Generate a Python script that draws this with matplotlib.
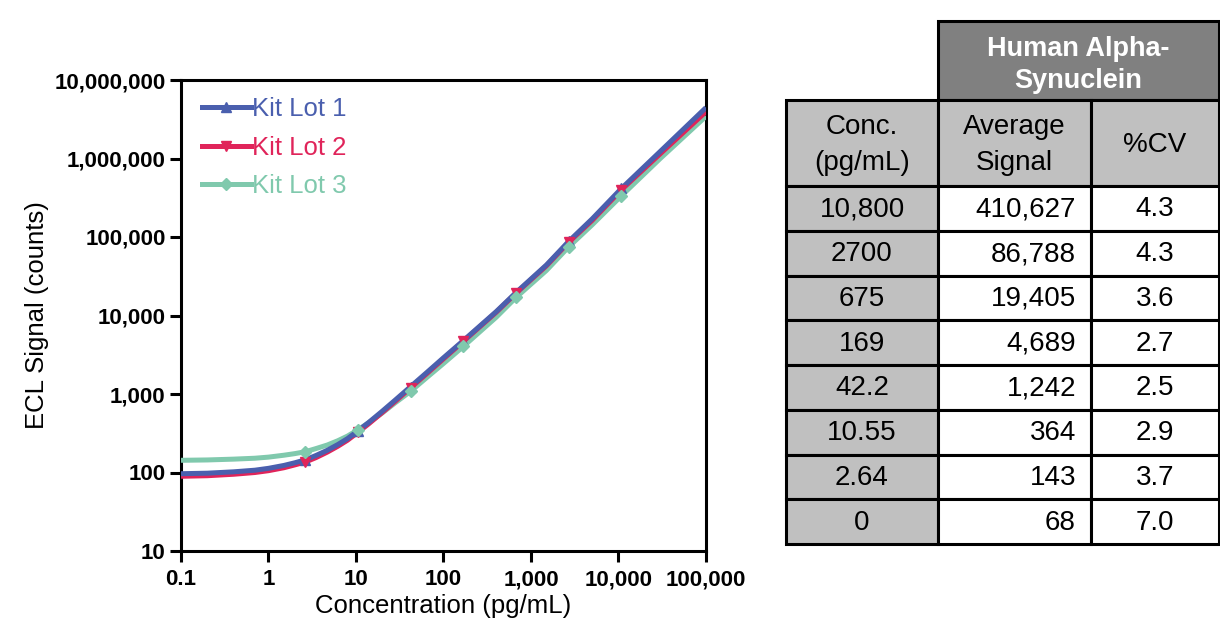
import matplotlib
matplotlib.use("Agg")
import matplotlib.pyplot as plt
from matplotlib.patches import Rectangle
from matplotlib.ticker import FixedLocator, FuncFormatter

plt.rcParams['font.family'] = ['Liberation Sans', 'DejaVu Sans']

# --- fitted curves ---
curve_conc = [0.1, 0.2, 0.4, 0.7, 1, 1.5, 2, 2.64, 3.5, 4.7, 6.2, 8, 10.55, 14, 20,
              28, 42.2, 65, 100, 169, 400, 675, 1500, 2700, 5000, 10800, 30000, 100000]
lot1_curve = [96.5, 98, 102, 107, 113, 123, 133, 145, 165, 192, 227, 270, 340, 435,
              605, 835, 1245, 1895, 2895, 4800, 11200, 19600, 44000, 88000, 170000,
              415000, 1230000, 4450000]
lot2_curve = [89.5, 91, 95, 100, 105.5, 115, 125, 136, 155, 182, 216, 258, 326, 418,
              583, 805, 1205, 1835, 2810, 4700, 11000, 19300, 43000, 86000, 163000,
              400000, 1150000, 3950000]
lot3_curve = [143, 144.5, 148, 152, 157, 166, 174, 184, 202, 224, 254, 291, 350, 431,
              575, 771, 1085, 1636, 2450, 4050, 9500, 17000, 37500, 75000, 143000,
              335000, 1000000, 3450000]

# --- standards (markers) ---
std_conc = [2.64, 10.55, 42.2, 169, 675, 2700, 10800]
lot1_pts = [145, 340, 1245, 4800, 19600, 88000, 415000]
lot2_pts = [136, 326, 1205, 4700, 19300, 86000, 400000]
lot3_pts = [184, 350, 1085, 4050, 17000, 75000, 335000]

lot_names = ['Kit Lot 1', 'Kit Lot 2', 'Kit Lot 3']
lot_colors = ['#4a5fae', '#e0245a', '#80c9ad']
lot_markers = ['^', 'v', 'D']

x_ticks = [0.1, 1, 10, 100, 1000, 10000, 100000]
y_ticks = [10, 100, 1000, 10000, 100000, 1000000, 10000000]

# --- table data ---
tbl_title = 'Human Alpha-\nSynuclein'
tbl_head = ['Conc.\n(pg/mL)', 'Average\nSignal', '%CV']
tbl_conc = ['10,800', '2700', '675', '169', '42.2', '10.55', '2.64', '0']
tbl_signal = ['410,627', '86,788', '19,405', '4,689', '1,242', '364', '143', '68']
tbl_cv = ['4.3', '4.3', '3.6', '2.7', '2.5', '2.9', '3.7', '7.0']

W, H = 1220, 621
fig = plt.figure(figsize=(W / 100, H / 100), dpi=100)
ax = fig.add_axes([181 / W, 1 - 551 / H, (706 - 181) / W, (551 - 80) / H])

curves = [lot1_curve, lot2_curve, lot3_curve]
pts = [lot1_pts, lot2_pts, lot3_pts]
for i in range(3):
    ms = 7.5 if i < 2 else 6.5
    ax.plot(curve_conc, curves[i], color=lot_colors[i], lw=3.6,
            solid_capstyle='butt', zorder=3 - i * 0.1)
    ax.plot(std_conc, pts[i], ls='none', marker=lot_markers[i], ms=ms,
            color=lot_colors[i], zorder=3.5)
    # legend proxy
    ax.plot([], [], color=lot_colors[i], lw=3.6, marker=lot_markers[i],
            ms=ms, label=lot_names[i])

ax.set_xscale('log')
ax.set_yscale('log')
ax.set_xlim(0.1, 100000)
ax.set_ylim(10, 10000000)
ax.xaxis.set_major_locator(FixedLocator(x_ticks))
ax.yaxis.set_major_locator(FixedLocator(y_ticks))
ax.xaxis.set_minor_locator(FixedLocator([]))
ax.yaxis.set_minor_locator(FixedLocator([]))
fmt = FuncFormatter(lambda v, p: f'{v:g}' if v < 1 else f'{int(round(v)):,}')
ax.xaxis.set_major_formatter(fmt)
ax.yaxis.set_major_formatter(fmt)
for s in ax.spines.values():
    s.set_linewidth(2.2)
ax.tick_params(axis='both', which='major', direction='out', length=8, width=2.2,
               labelsize=16)
ax.tick_params(axis='x', pad=5)
ax.tick_params(axis='y', pad=3)
for lab in ax.get_xticklabels() + ax.get_yticklabels():
    lab.set_fontweight('bold')
ax.set_xlabel('Concentration (pg/mL)', fontsize=18.5, labelpad=3)
ax.set_ylabel('ECL Signal (counts)', fontsize=18.5, labelpad=4)

leg = ax.legend(loc='upper left', bbox_to_anchor=(0.02, 0.985), frameon=False,
                fontsize=18.5, handlelength=1.9, handletextpad=0.05, labelspacing=0.56,
                numpoints=1, labelcolor='linecolor', borderaxespad=0)

# --- table, drawn in pixel coords ---
tax = fig.add_axes([0, 0, 1, 1])
tax.set_xlim(0, W)
tax.set_ylim(H, 0)
tax.axis('off')

tsize = 20
cols = [786, 938, 1091, 1219]
head_top, head_bot = 100, 186
row_h = (544 - head_bot) / len(tbl_conc)
lw = 2.2

def cell(x0, y0, x1, y1, fc):
    tax.add_patch(Rectangle((x0, y0), x1 - x0, y1 - y0, facecolor=fc,
                            edgecolor='black', lw=lw))

cell(cols[1], 21, cols[3], head_top, '#808080')
tax.text((cols[1] + cols[3]) / 2, 65, tbl_title, ha='center', va='center',
         color='white', fontweight='bold', fontsize=19.5, linespacing=1.35)
for j in range(3):
    cell(cols[j], head_top, cols[j + 1], head_bot, '#c0c0c0')
    tax.text((cols[j] + cols[j + 1]) / 2, (head_top + head_bot) / 2 + 2, tbl_head[j],
             ha='center', va='center', fontsize=tsize, linespacing=1.45)
for r in range(len(tbl_conc)):
    y0 = head_bot + r * row_h
    y1 = y0 + row_h
    ym = (y0 + y1) / 2 + 1
    cell(cols[0], y0, cols[1], y1, '#c0c0c0')
    cell(cols[1], y0, cols[2], y1, 'white')
    cell(cols[2], y0, cols[3], y1, 'white')
    tax.text((cols[0] + cols[1]) / 2, ym, tbl_conc[r], ha='center', va='center',
             fontsize=tsize)
    tax.text(cols[2] - 15, ym, tbl_signal[r], ha='right', va='center',
             fontsize=tsize)
    tax.text((cols[2] + cols[3]) / 2, ym, tbl_cv[r], ha='center', va='center',
             fontsize=tsize)

fig.savefig('out.png', dpi=100)
